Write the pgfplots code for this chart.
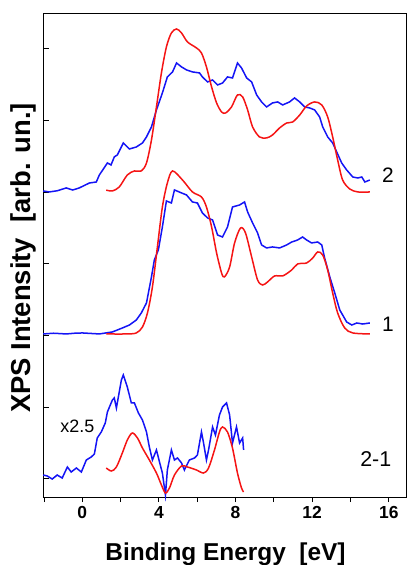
\documentclass[border=0pt]{standalone}
\usepackage{fontspec}
\setmainfont{Liberation Sans}
\usepackage{pgfplots}
\pgfplotsset{compat=1.18}

\definecolor{specblue}{RGB}{20,20,245}
\definecolor{specred}{RGB}{245,20,20}

\begin{document}
\begin{tikzpicture}
\begin{axis}[
    name=ax,
    scale only axis,
    width=363bp,
    height=483bp,
    xmin=-2, xmax=16.95,
    ymin=-0.257, ymax=6.488,
    xtick={0,4,...,16},
    xticklabels={\textbf{0},\textbf{4},\textbf{8},\textbf{12},\textbf{16}},
    minor xtick={-2,2,...,14},
    ytick={0,...,6},
    yticklabels={},
    xtick pos=bottom,
    ytick pos=left,
    tick align=outside,
    major tick length=5bp,
    minor tick length=5bp,
    y tick style={xshift=5bp},
    tick style={black, line width=0.9bp},
    axis line style={black, line width=1bp},
    /pgf/number format/assume math mode=true,
    xticklabel style={font=\fontsize{17.5}{17.5}\selectfont\bfseries, yshift=-1bp},
    xlabel={Binding Energy\ \ [eV]},
    ylabel={XPS Intensity\ \ [arb. un.]},
    xlabel style={font=\fontsize{24.5}{24.5}\selectfont\bfseries,
        at={(axis description cs:0.5,0)}, anchor=base, yshift=-63bp},
    ylabel style={font=\fontsize{27.5}{27.5}\selectfont\bfseries,
        at={(axis description cs:-0.058,0.495)}, anchor=center, rotate=0},
    every axis plot/.append style={line width=1.5bp},
    clip=false,
]
% spectrum 2, measured
\addplot[specblue] coordinates {
(-2.04,4.017) (-1.73,4.003) (-1.3,4.02) (-0.84,4.059) (-0.5,4.03) (-0.16,4.059)
(0.37,4.128) (0.73,4.142) (0.89,4.240) (1.31,4.408) (1.50,4.38) (1.67,4.492)
(1.83,4.520) (2.14,4.687) (2.46,4.603) (2.82,4.631) (3.14,4.687) (3.35,4.771)
(3.61,4.911) (3.87,5.148) (4.18,5.385) (4.44,5.609) (4.71,5.679) (4.92,5.804)
(5.18,5.749) (5.44,5.707) (5.75,5.679) (6.12,5.665) (6.27,5.609) (6.54,5.539)
(6.80,5.567) (7.06,5.497) (7.32,5.524) (7.58,5.609) (7.84,5.595) (8.10,5.804)
(8.31,5.735) (8.58,5.595) (8.84,5.539) (9.10,5.358) (9.36,5.260) (9.62,5.190)
(9.93,5.246) (10.20,5.260) (10.46,5.218) (10.82,5.260) (11.08,5.316) (11.35,5.260)
(11.61,5.190) (11.87,5.176) (12.13,5.148) (12.39,5.050) (12.55,4.911) (12.81,4.771)
(13.07,4.687) (13.28,4.562) (13.54,4.408) (13.80,4.310) (14.12,4.212) (14.38,4.198)
(14.59,4.212) (14.75,4.142) (15.01,4.170)
};
% spectrum 2, calculated
\addplot[specred, smooth] coordinates {
(1.25,4.029) (1.57,4.017) (1.93,4.073) (2.35,4.240) (2.72,4.296) (3.08,4.296)
(3.35,4.408) (3.61,4.729) (3.87,5.190) (4.13,5.665) (4.39,6.028) (4.65,6.223)
(4.92,6.279) (5.18,6.223) (5.49,6.098) (5.96,6.014) (6.22,5.944) (6.48,5.749)
(6.75,5.469) (7.01,5.246) (7.27,5.120) (7.48,5.106) (7.79,5.190) (8.10,5.358)
(8.37,5.330) (8.63,5.148) (8.89,4.911) (9.25,4.771) (9.62,4.757) (9.93,4.799)
(10.30,4.897) (10.67,4.966) (10.98,4.980) (11.35,5.078) (11.71,5.204) (12.13,5.260)
(12.50,5.218) (12.81,5.050) (13.07,4.771) (13.33,4.450) (13.59,4.170) (13.96,4.045)
(14.38,4.003) (15.01,4.003)
};
% spectrum 1, measured
\addplot[specblue] coordinates {
(-2.04,2.020) (-1.5,2.03) (-0.84,2.020) (-0.4,2.03) (0.00,2.034) (0.89,2.020)
(1.57,2.048) (2.09,2.103) (2.46,2.145) (2.82,2.215) (3.08,2.313) (3.35,2.453)
(3.61,2.816) (3.76,3.053) (3.97,3.193) (4.18,3.514) (4.39,3.877) (4.65,3.849)
(4.81,4.031) (5.18,3.989) (5.44,3.961) (5.75,3.863) (6.01,3.849) (6.27,3.709)
(6.54,3.640) (6.80,3.612) (7.06,3.402) (7.32,3.374) (7.58,3.514) (7.84,3.793)
(8.21,3.821) (8.47,3.863) (8.63,3.723) (8.89,3.570) (9.15,3.430) (9.36,3.263)
(9.62,3.221) (9.93,3.235) (10.30,3.221) (10.67,3.263) (10.93,3.304) (11.24,3.332)
(11.50,3.374) (11.71,3.332) (11.97,3.291) (12.29,3.304) (12.50,3.263) (12.65,3.081)
(12.92,2.816) (13.18,2.592) (13.44,2.355) (13.80,2.187) (14.07,2.145) (14.33,2.173)
(14.64,2.159) (15.01,2.173)
};
% spectrum 1, calculated
\addplot[specred, smooth] coordinates {
(1.25,2.020) (2.30,2.020) (2.82,2.034) (3.14,2.117) (3.40,2.313) (3.66,2.676)
(3.92,3.235) (4.18,3.793) (4.44,4.128) (4.71,4.296) (5.23,4.170) (5.75,4.003)
(6.22,3.933) (6.48,3.793) (6.75,3.514) (7.01,3.151) (7.27,2.872) (7.42,2.816)
(7.69,2.955) (7.95,3.291) (8.26,3.500) (8.52,3.430) (8.84,3.095) (9.15,2.774)
(9.41,2.704) (9.67,2.746) (10.04,2.830) (10.46,2.830) (10.93,2.913) (11.24,2.997)
(11.71,3.011) (12.03,3.081) (12.29,3.165) (12.55,3.123) (12.81,2.913) (13.07,2.592)
(13.33,2.313) (13.70,2.103) (14.12,2.034) (15.01,2.020)
};
% difference 2-1, measured (x2.5)
\addplot[specblue] coordinates {
(-2.04,0.050) (-1.83,0.036) (-1.57,-0.006) (-1.31,0.050) (-1.05,0.008) (-0.78,0.162)
(-0.58,0.092) (-0.31,0.148) (-0.05,0.092) (0.21,0.260) (0.47,0.302) (0.63,0.344)
(0.78,0.567) (0.99,0.651) (1.20,0.777) (1.31,0.930) (1.57,1.098) (1.67,1.126)
(1.78,0.986) (2.04,1.377) (2.14,1.447) (2.35,1.279) (2.56,1.056) (2.72,1.056)
(2.93,0.916) (3.14,0.818) (3.35,0.651) (3.50,0.441) (3.66,0.260) (3.87,0.400)
(4.03,0.232) (4.18,0.078) (4.34,-0.229) (4.44,0.120) (4.65,0.400) (4.81,0.260)
(4.97,0.288) (5.18,0.218) (5.33,0.120) (5.59,0.260) (5.86,0.288) (6.01,0.330)
(6.22,0.651) (6.33,0.497) (6.48,0.260) (6.59,0.400) (6.80,0.721) (6.95,0.609)
(7.16,0.888) (7.32,1.000) (7.53,1.056) (7.69,0.888) (7.84,0.497) (8.05,0.721)
(8.21,0.497) (8.37,0.567) (8.42,0.400)
};
% difference 2-1, calculated
\addplot[specred, smooth] coordinates {
(1.25,0.148) (1.52,0.106) (1.78,0.162) (2.09,0.358) (2.35,0.539) (2.61,0.637)
(2.88,0.567) (3.14,0.427) (3.50,0.260) (3.87,0.078) (4.13,-0.089) (4.34,-0.201)
(4.55,-0.131) (4.81,0.050) (5.18,0.176) (5.49,0.162) (5.96,0.120) (6.33,0.078)
(6.59,0.148) (6.90,0.400) (7.16,0.651) (7.32,0.721) (7.58,0.651) (7.84,0.427)
(8.10,0.078) (8.31,-0.131) (8.42,-0.187)
};
\node[font=\fontsize{21}{21}\selectfont] at (axis cs:15.95,4.24) {2};
\node[font=\fontsize{21}{21}\selectfont] at (axis cs:15.95,2.15) {1};
\node[font=\fontsize{21.5}{21.5}\selectfont] at (axis cs:15.32,0.274) {2-1};
\node[font=\fontsize{18}{18}\selectfont] at (axis cs:-0.26,0.728) {x2.5};
\end{axis}
\pgfresetboundingbox
\path[use as bounding box] ([shift={(-44bp,-68bp)}]ax.south west) rectangle ([shift={(0bp,14bp)}]ax.north east);
\end{tikzpicture}
\end{document}
